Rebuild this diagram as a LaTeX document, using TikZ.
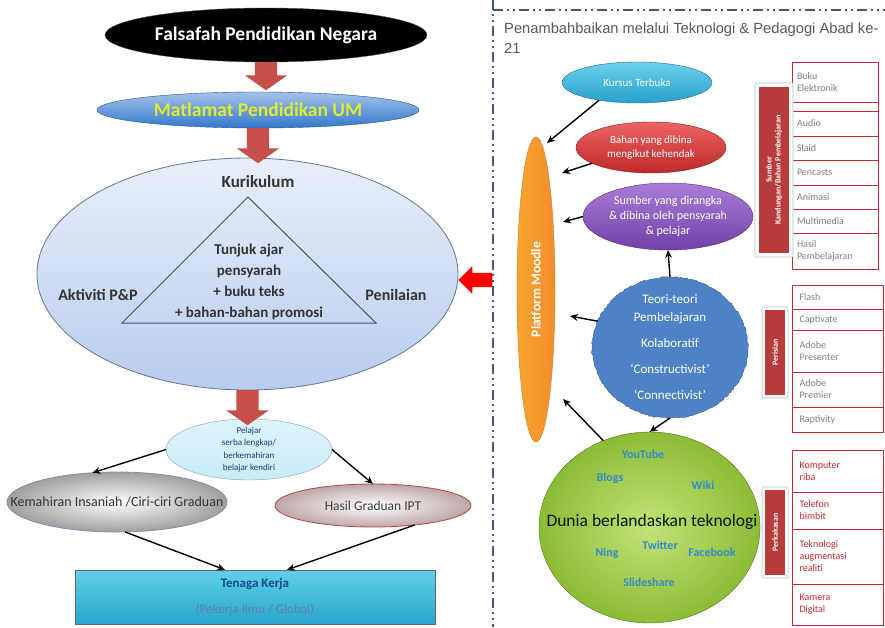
\documentclass[tikz,border=0pt]{standalone}
\usepackage{fontspec}
\setmainfont{Carlito}
\newfontfamily\hdrfont{Liberation Sans}
\usetikzlibrary{shapes.geometric,shapes.arrows,arrows.meta,decorations.pathmorphing}

\definecolor{arrred}{RGB}{200,78,74}
\definecolor{umblue}{RGB}{52,120,205}
\definecolor{umyellow}{RGB}{222,236,44}
\definecolor{kurtop}{RGB}{232,239,250}
\definecolor{kurbot}{RGB}{184,204,238}
\definecolor{kuredge}{RGB}{100,118,150}
\definecolor{pelfill}{RGB}{200,236,248}
\definecolor{peltext}{RGB}{30,60,120}
\definecolor{kerjatop}{RGB}{96,208,232}
\definecolor{kerjabot}{RGB}{40,166,204}
\definecolor{kerjatext}{RGB}{25,75,140}
\definecolor{kursustop}{RGB}{110,208,236}
\definecolor{kursusbot}{RGB}{40,160,205}
\definecolor{bahantop}{RGB}{236,100,100}
\definecolor{bahanbot}{RGB}{190,40,40}
\definecolor{sumbertop}{RGB}{170,125,215}
\definecolor{sumberbot}{RGB}{112,64,168}
\definecolor{moodle}{RGB}{245,155,50}
\definecolor{teori}{RGB}{78,130,198}
\definecolor{duniain}{RGB}{196,226,120}
\definecolor{duniaout}{RGB}{140,188,54}
\definecolor{webblue}{RGB}{50,140,205}
\definecolor{cellred}{RGB}{200,40,50}
\definecolor{tagred}{RGB}{185,60,60}
\definecolor{divline}{RGB}{70,88,118}

\begin{document}
\begin{tikzpicture}[x=1pt,y=-1pt,
	oval/.style={ellipse,inner sep=0pt,outer sep=0pt},
	blockarr/.style={single arrow,fill=arrred,inner xsep=0pt,inner ysep=11pt,single arrow head extend=10pt,single arrow tip angle=110,minimum height=#1,rotate=-90,anchor=tail},
	arr/.style={-{Stealth[length=8pt,width=7pt]},line width=1.4pt},
	cell/.style={draw=cellred,line width=0.9pt,fill=white},
	celltxt/.style={text width=76pt,align=left,inner sep=0pt,font=\fontsize{10}{12}\selectfont,text=gray},
	tagframe/.style={draw=gray!50,fill=white,line width=0.6pt,rounded corners=1pt},
	tagfill/.style={fill=tagred,rotate=90,text=white,align=center,inner sep=0pt,font=\bfseries\fontsize{8}{9}\selectfont},
	web/.style={text=webblue,font=\bfseries\fontsize{12}{14}\selectfont}]
		\fill[white] (0,0) rectangle (885,627);
		\useasboundingbox (0,0) rectangle (885,627);

		% Left half: Falsafah down to Tenaga Kerja
		\node[oval,fill=black,draw=gray!60!black,minimum width=322,minimum height=54,text=white,font=\bfseries\fontsize{19.5}{22}\selectfont] (falsafah) at (266,35) {Falsafah Pendidikan Negara};
		\node[oval,top color=umblue!45!white,bottom color=umblue,draw=umblue!70!black,minimum width=322,minimum height=36,text=umyellow,font=\bfseries\fontsize{19.5}{22}\selectfont] (matlamat) at (258,110) {Matlamat Pendidikan UM};
		\node[oval,top color=kurtop,bottom color=kurbot,draw=kuredge,line width=0.8pt,minimum width=421,minimum height=232] (kur) at (247.5,274) {};
		\draw[kuredge!70!black,line width=1pt] (248,197) -- (376,323) -- (122,323) -- cycle;
		\node[font=\bfseries\fontsize{17}{20}\selectfont,text=black!80] (kurtxt) at (258,182) {Kurikulum};
		\node[align=center,font=\bfseries\fontsize{15}{21}\selectfont,text=black!80] (tunjuk) at (249,282) {Tunjuk ajar\\pensyarah\\+ buku teks\\+ bahan-bahan promosi};
		\node[font=\bfseries\fontsize{16}{20}\selectfont,text=black!80] (aktiviti) at (98,295) {Aktiviti P\&P};
		\node[font=\bfseries\fontsize{16}{20}\selectfont,text=black!80] (penilaian) at (396,295) {Penilaian};

		\node[oval,top color=pelfill!60!white,bottom color=pelfill,draw=peltext!50,minimum width=166,minimum height=61] (pelajar) at (249,449.5) {};
		\node[align=center,text=peltext,font=\fontsize{9}{12.5}\selectfont] (pelajartxt) at (pelajar) {Pelajar\\serba lengkap/\\berkemahiran\\belajar kendiri};
		\node[oval,inner color=white,outer color=gray!75,draw=kuredge!80,line width=0.8pt,minimum width=220,minimum height=60] (kem) at (117,502) {};
		\node[text=black!80,font=\fontsize{14}{16}\selectfont] (kemtxt) at (kem) {Kemahiran Insaniah /Ciri-ciri Graduan};
		\node[oval,inner color=white,outer color=red!15!gray!60,draw=red!45!gray,line width=0.8pt,minimum width=196,minimum height=43] (hasil) at (373,505.5) {};
		\node[text=black!75,font=\fontsize{13.5}{16}\selectfont] (hasiltxt) at (hasil) {Hasil Graduan IPT};
		\node[draw=gray!80!black,top color=kerjatop,bottom color=kerjabot,minimum width=360,minimum height=54,inner sep=0pt,align=center,text=kerjatext,font=\fontsize{13}{16}\selectfont] (tenaga) at (255,597) {\bfseries Tenaga Kerja\\[10pt]\color{kerjatext!70!white}(Pekerja Ilmu / Global)};

		\node[blockarr=28] (ar1) at (falsafah.south) {};
		\node[blockarr=35] (ar2) at (matlamat.south) {};
		\node[blockarr=35] (ar3) at (kur.south) {};
		\node[single arrow,fill=red,inner xsep=0pt,inner ysep=7pt,single arrow head extend=7pt,minimum height=34,rotate=180,anchor=tip] (ar4) at ([yshift=-6pt]kur.east) {};

		\draw[arr] (pelajar.west) -- (kem.130);
		\draw[arr] (pelajar.east) -- (hasil.north);
		\draw[arr] (kem.-75) -- ([xshift=-30pt]tenaga.north);
		\draw[arr] (hasil.-25) -- ([xshift=32pt]tenaga.north);

		% Divider and heading of the right half
		\draw[divline,line width=1.5pt,dash pattern=on 10pt off 4pt on 2pt off 4pt on 2pt off 4pt] (493,0) -- (493,627);
		\draw[divline,line width=1.5pt,dash pattern=on 10pt off 4pt on 2pt off 4pt on 2pt off 4pt] (493,10) -- (885,10);
		\node[anchor=west,align=left,inner sep=0pt,text=black!65,font=\hdrfont\fontsize{14.7}{20}\selectfont] (hdr) at (504,38) {Penambahbaikan melalui Teknologi \& Pedagogi Abad ke-\\21};

		% Right half: Moodle with the resources around it
		\node[oval,left color=moodle!90!yellow,right color=moodle!90!red,draw=moodle!80!black,minimum width=38,minimum height=305] (moodle) at (536,289.5) {};
		\node[rotate=90,text=white,font=\bfseries\fontsize{13.5}{16}\selectfont] (moodletxt) at (moodle) {Platform Moodle};
		\node[oval,top color=kursustop,bottom color=kursusbot,draw=kursusbot!70!black,minimum width=150,minimum height=41,text=white,font=\fontsize{11}{13}\selectfont] (kursus) at (637,82.5) {Kursus Terbuka};
		\node[oval,top color=bahantop,bottom color=bahanbot,draw=bahanbot!70!black,minimum width=150,minimum height=51] (bahan) at (651,147.5) {};
		\node[align=center,text=white,font=\fontsize{11}{14}\selectfont] (bahantxt) at (bahan) {Bahan yang dibina\\mengikut kehendak};
		\node[oval,top color=sumbertop,bottom color=sumberbot,draw=sumberbot!70!black,minimum width=170,minimum height=67] (sumber) at (668,216.5) {};
		\node[align=center,text=white,font=\fontsize{12}{15}\selectfont] (sumbertxt) at (sumber) {Sumber yang dirangka\\\& dibina oleh pensyarah\\\& pelajar};
		\node[oval,fill=teori,draw=teori!70!black,decorate,decoration={random steps,segment length=2pt,amplitude=0.7pt},minimum width=156,minimum height=141] (teori) at (670,347.5) {};
		\node[align=center,text=white,font=\fontsize{13}{18}\selectfont] (teoritxt) at (teori) {Teori-teori\\Pembelajaran\\[8pt]Kolaboratif\\[8pt]`Constructivist'\\[8pt]`Connectivist'};
		\node[oval,inner color=duniain,outer color=duniaout,draw=duniaout!60!black,minimum width=221,minimum height=191] (dunia) at (649.5,527.5) {};
		\node[text=black!75!green!40!black,font=\fontsize{17.5}{20}\selectfont] (duniatxt) at (652,522) {Dunia berlandaskan teknologi};
		\node[web] (youtube) at (643,454) {YouTube};
		\node[web] (blogs) at (610,478) {Blogs};
		\node[web] (wiki) at (703,485) {Wiki};
		\node[web] (twitter) at (660,545) {Twitter};
		\node[web] (ning) at (607,553) {Ning};
		\node[web] (facebook) at (712,552) {Facebook};
		\node[web] (slideshare) at (649,582) {Slideshare};

		\draw[arr] (kursus.205) -- ([shift={(11,-146.5)}]moodle.center);
		\draw[arr] (bahan.195) -- ([shift={(26,-116.5)}]moodle.center);
		\draw[arr] (sumber.west) -- ([shift={(27,-67.5)}]moodle.center);
		\draw[arr] (teori.160) -- ([shift={(34,26.5)}]moodle.center);
		\draw[arr] (dunia.118) -- ([shift={(27,109.5)}]moodle.center);
		\draw[arr] (teori.north) -- (sumber.south);
		\draw[arr] (teori.south) -- (dunia.north);

		% Lists on the far right
		\foreach \ya/\yb/\txt in {62/102/{Buku\\Elektronik},102/111/{},111/136/Audio,136/160/Slaid,160/185/Pencasts,185/209/Animasi,209/233/Multimedia,233/269/{Hasil\\Pembelajaran}}
			\draw[cell] (792,\ya) rectangle node[celltxt] {\txt} (878,\yb);
		\foreach \ya/\yb/\txt in {285/309/Flash,309/330/Captivate,330/372/{Adobe\\Presenter},372/407/{Adobe\\Premier},407/432/Raptivity}
			\draw[cell] (792,\ya) rectangle node[celltxt] {\txt} (883,\yb);
		\foreach \ya/\yb/\txt in {450/492/{Komputer\\riba},492/529/{Telefon\\bimbit},529/584/{Teknologi\\augmentasi\\realiti},584/625/{Kamera\\Digital}}
			\draw[cell] (792,\ya) rectangle node[celltxt,text=cellred] {\txt} (883,\yb);

		\node[tagframe,minimum width=38,minimum height=174] (tag1) at (774,170) {};
		\node[tagfill,minimum width=166,minimum height=30] (tag1txt) at (tag1) {Sumber\\Kandungan/Bahan Pembelajaran};
		\node[tagframe,minimum width=26,minimum height=91] (tag2) at (775,352.5) {};
		\node[tagfill,minimum width=85,minimum height=20] (tag2txt) at (tag2) {Perisian};
		\node[tagframe,minimum width=26,minimum height=91] (tag3) at (775,532.5) {};
		\node[tagfill,minimum width=85,minimum height=20] (tag3txt) at (tag3) {Perkakasan};
	\end{tikzpicture}
\end{document}
